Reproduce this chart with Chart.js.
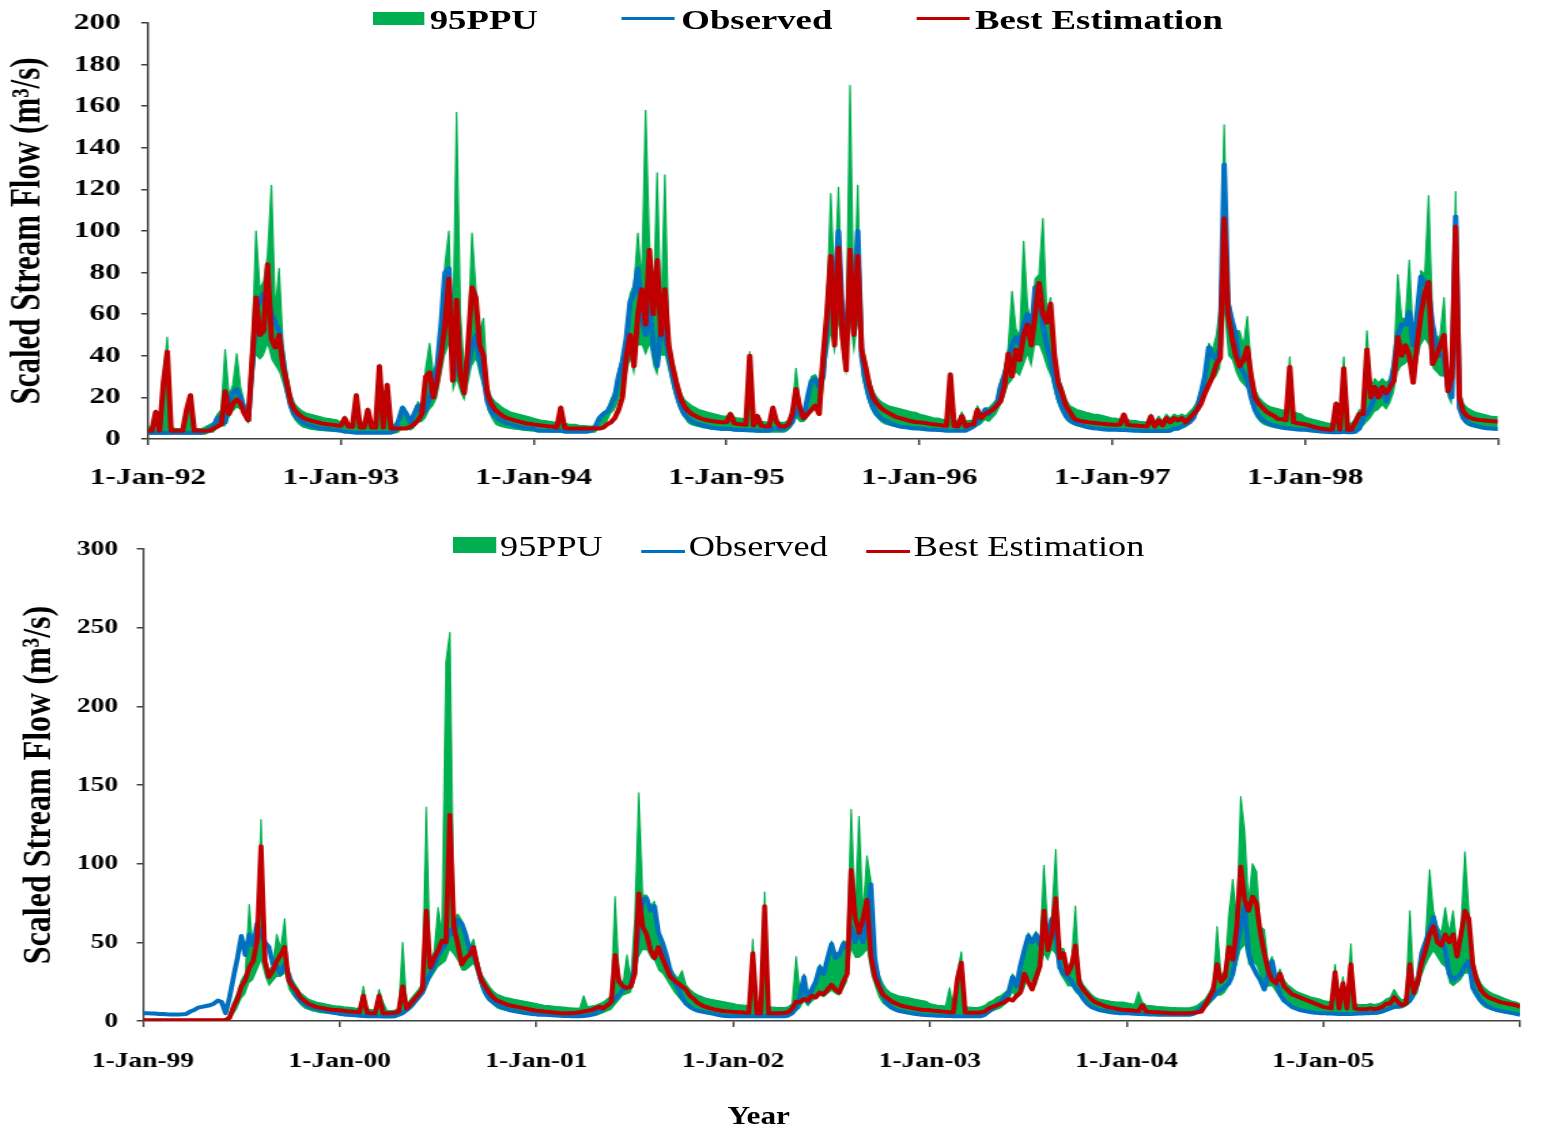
<!DOCTYPE html>
<html>
<head>
<meta charset="utf-8">
<title>Scaled stream flow, 95PPU</title>
<script src="https://cdn.jsdelivr.net/npm/chart.js@4.4.1/dist/chart.umd.min.js"></script>
<style>
  body { margin: 0; background: #fff; width: 1546px; height: 1131px; overflow: hidden; position: relative; }
  .panel { position: absolute; left: 0; transform-origin: 0 0; }
  .key { position: absolute; }
  .lbl { position: absolute; font-family: 'Liberation Serif', 'Times New Roman', serif; line-height: 1; white-space: nowrap; color: #000; }
  .bold { font-weight: bold; font-size: 27px; }
  .plain { font-size: 29px; }
</style>
</head>
<body>

<div class="panel" style="top:0;transform:scaleX(1.36)">
  <canvas id="topChart" width="1137" height="500"></canvas>
  <div class="key" style="left:274px;top:12px;width:38px;height:13px;background:#00B050"></div>
  <div class="lbl bold" style="left:316px;top:7px">95PPU</div>
  <div class="key" style="left:457px;top:17px;width:39px;height:3px;background:#0070C0"></div>
  <div class="lbl bold" style="left:501px;top:7px">Observed</div>
  <div class="key" style="left:674px;top:17px;width:39px;height:3px;background:#C00000"></div>
  <div class="lbl bold" style="left:717px;top:7px">Best Estimation</div>
</div>

<div class="panel" style="top:505px;transform:scaleX(1.25)">
  <canvas id="bottomChart" width="1237" height="626"></canvas>
  <div class="key" style="left:362px;top:32px;width:35px;height:16px;background:#00B050"></div>
  <div class="lbl plain" style="left:400px;top:27px">95PPU</div>
  <div class="key" style="left:513px;top:45px;width:35px;height:3px;background:#0070C0"></div>
  <div class="lbl plain" style="left:551px;top:27px">Observed</div>
  <div class="key" style="left:693px;top:45px;width:35px;height:3px;background:#C00000"></div>
  <div class="lbl plain" style="left:731px;top:27px">Best Estimation</div>
  <div class="lbl" style="left:582px;top:598px;font-weight:bold;font-size:25px">Year</div>
</div>

<script>
// readings every 1/50 year, one row per year, last value is 1 Jan of the closing year
const samplesPerYear = 50;
const yearTicks = [0, 1, 2, 3, 4, 5, 6, 7];
const topYearLabels = ['1-Jan-92', '1-Jan-93', '1-Jan-94', '1-Jan-95', '1-Jan-96', '1-Jan-97', '1-Jan-98'];
const bottomYearLabels = ['1-Jan-99', '1-Jan-00', '1-Jan-01', '1-Jan-02', '1-Jan-03', '1-Jan-04', '1-Jan-05'];

// 1992 - 1998
const topObserved = [
  3,3,3,3,3,3,3,3,3,3, 3,3,3,3,3,4,5,6,10,11, 8,18,22,24,20,14,9,35,62,66, 70,68,60,56,52,38,25,16,12,9.5, 8,7,6.5,6,5.5,5,5,4.8,4.5,4.3,
  4,3.5,3.5,3.2,3,3,3,3,3,3, 3,3,3,3,4,9,15,12,8,12, 16,12,14,20,28,35,55,80,82,40, 35,30,28,35,45,50,38,30,18,13, 11,9.5,8.5,7.5,7,6.5,6,5.5,5.2,5,
  5,4,4,4,4,4,4,4,3.5,3.5, 3.5,3.5,3.5,3.5,3.5,4,6,10,12,13, 16,20,30,37,48,66,70,82,60,50, 65,45,35,55,50,40,30,22,16,12, 10,8.5,7.5,7,6.5,6,5.5,5.2,5,4.8,
  5,4.8,4.5,4.5,4.3,4.3,4.2,4.2,4,4, 4,4,5,5,4.5,5,6,8,14,12, 10,20,28,29,25,30,55,85,70,100, 60,45,80,60,100,40,28,20,15,12, 10,9,8,7,6.5,6,5.8,5.5,5.2,5,
  5,4.8,4.6,4.5,4.4,4.3,4.2,4,4,4, 4,4,4,5,6,8,10,14,12,15, 16,25,30,38,45,49,45,55,60,50, 73,70,55,45,38,28,20,15,11,9, 8,7,6.5,6,5.5,5.2,5,4.8,4.6,4.5,
  4.5,4.4,4.3,4.3,4.2,4.1,4,4,3.9,3.9, 3.8,3.8,3.8,3.8,3.8,4,5,5,6,7, 8,10,15,22,30,44,40,38,45,132, 65,57,50,35,32,28,20,14,11,9, 8,7,6.5,6,5.5,5.2,5,4.8,4.6,4.4,
  4.4,4.2,4,3.8,3.6,3.5,3.4,3.3,3.3,3.2, 3.5,3.2,3.2,3.5,5,10,12,15,20,24, 24,18,25,35,50,55,55,61,45,60, 78,75,70,55,45,40,40,25,20,107, 15,10,8,7,6.5,6,5.5,5.2,5,4.9,
  4.8
];
const topBest = [
  4,4,13,4,27,42,4,4,4,4, 14,21,4,4,4,4,4,5,6,7, 23,12,17,19,17,12,9,38,68,50, 52,84,48,44,50,35,27,18,14,12, 10.5,9.5,9,8.5,8,7.5,7.2,7,6.8,6.5,
  6.3,10,6,5.8,21,5.5,5.5,14,5.5,5.5, 35,5.5,26,5,5,5,5,5,6,7, 9,12,30,32,20,28,40,55,77,28, 67,30,22,46,73,68,45,40,22,17, 14,12.5,11,10,9.5,9,8.5,8,7.5,7.3,
  7,6.8,6.5,6.3,6,6,5.5,15,5.5,5, 5,5,5,5,5,5,5,5,5.5,7, 8,10,14,20,39,50,35,60,72,55, 91,60,86,50,72,45,35,27,20,16, 13.5,12,11,10,9.5,9,8.7,8.4,8.2,8,
  8,12,7.5,7.2,7,6.8,40,6.5,11,6.3, 6,6,15,8,6,6,7,12,24,15, 10,12,14,16,12,39,60,88,45,92, 50,33,91,50,88,43,35,26,20,17, 15,13.5,12.5,11.5,10.5,10,9.5,9,8.5,8.2,
  8,7.8,7.5,7.2,7,6.8,6.5,6.3,31,6.2, 6,11,6,7,7,14,10,12,13,14, 16,18,25,41,30,43,38,50,55,45, 60,75,60,56,65,40,27,22,16,13, 10,9,8.6,8.3,8,7.8,7.6,7.4,7.2,7,
  7,6.8,7,11.7,6.8,6.6,6.5,6.3,6.2,6, 10.9,6,9,6.5,10,8,10,9,10,8, 10,12,14,17,22,26,30,36,39,106, 60,49,40,35,38,44,30,20,17,15, 13,12,11,9.6,9.5,9,34.6,8,7.6,7.3,
  7,6.5,6,5.5,5,4.8,4.6,4.5,17,4.5, 34,4.5,4.5,8,12,12,43,20,25,20, 25,22,25,28,49,40,45,40,27,45, 60,70,75.5,36,40,45,50,23,30,102, 20,13,11,10,9.5,9.2,9,8.8,8.6,8.5,
  8.3
];
const topUpper = [
  6,6,14,6,30,49,6,5,5,5, 15,22,5,5,5,6,7,8,12,14, 43,21,26,41,25,17,12,45,100,72, 76,88,122,62,82,45,32,22,17,15, 13.5,12.5,12,11.5,11,10.5,10,9.8,9.5,9.2,
  8,11,7.5,7,22,7,7,15,7,7, 36,7,27,7,7,10,16,13,9,13, 18,15,34,46,31,38,58,84,100,44, 157,60,32,50,99,72,52,58,26,20, 18,16.5,15,14,13,12.5,12,11.5,11,10.5,
  10,9.5,9,8.8,8.5,8.2,8,16,7.5,7.2, 7,7,6.5,6.5,6.3,6.2,6.5,10,13,14, 19,23,33,40,52,70,74,99,76,158, 94,64,128,58,127,50,38,30,23,19, 17.5,16,15,14,13.5,13,12.5,12,11.5,11,
  11,13,10.5,10,10,9.5,42,9,12,8.5, 8.2,8,16,9,8,8,9,14,34,17, 13,22,30,31,27,43,64,118,74,121, 64,50,170,64,122,47,38,29,23,20, 18,17,16,15.5,15,14.5,14,13.5,13,12.8,
  12,11.5,11,10.5,10,10,9.5,9.2,32,9, 8.8,13,8.5,9,9,16,12,15,15,17, 19,28,33,44,71,53,49,95,64,54, 77,79,106,60,68,44,30,25,19,16, 15,14,13.5,13,12.5,12,11.8,11.5,11,10.5,
  10,10,9.5,12.5,9.2,9,8.8,8.5,8.3,8.2, 12,8,11,8.5,12,10,12,11,12,11, 13,15,18,24,32,46,43,50,66,151, 70,60,52,52,45,59,34,24,20,18, 16.5,15.5,15,14.5,14,13.5,39.5,13,12.5,12,
  10.5,10,9.5,9,8.5,8,7.5,7.5,18,7.5, 39.5,7.5,7.5,10,14,14,52,24,29,27, 29,27,29,38,79,58,58,86,48,63, 81,79,117,58,48,50,68,28,34,119, 23,17,15,14,13,12.5,12,11.5,11,10.8,
  10.6
];
const topLower = [
  2,2,2,2,2,2,2,2,2,2, 2,2,2,2,2,2,3,3,5,6, 6,10,13,15,14,10,7,22,40,38, 40,45,38,35,32,26,19,12,9,7, 5.5,5,4.5,4.2,4,3.8,3.6,3.5,3.4,3.3,
  3.2,3,2.8,2.7,2.6,2.5,2.5,2.5,2.5,2.5, 2.5,2.5,2.5,2.5,2.5,3,5,5,4,5, 8,8,10,14,16,20,30,40,45,22, 28,22,18,26,35,38,30,24,14,10, 7,6,5.5,5,4.8,4.5,4.3,4,3.8,3.6,
  3.5,3.4,3.3,3.2,3.1,3,3,3,3,3, 3,3,3,3,3,3,3,5,7,8, 12,14,18,24,30,38,30,45,45,40, 45,35,30,40,40,32,24,18,13,10, 7.5,6.5,6,5.5,5,4.8,4.5,4.3,4.2,4,
  4,3.8,3.6,3.5,3.4,3.3,3.2,3.1,3,3, 3,3,3,3,3,3,4,6,10,8, 8,10,14,16,12,22,38,50,40,55, 40,30,55,40,55,30,22,16,12,10, 8,7,6.5,6,5.5,5.2,5,4.8,4.6,4.4,
  4.2,4,3.9,3.8,3.7,3.6,3.5,3.5,3.5,3.5, 3.5,3.5,3.5,4,5,6,7,9,8,10, 12,16,20,26,28,32,30,35,40,34, 45,45,40,34,30,22,16,12,9,7.5, 6.5,6,5.5,5.2,5,4.7,4.5,4.3,4.2,4,
  4,3.8,3.7,3.6,3.5,3.4,3.3,3.2,3.1,3, 3,3,3,3,3,3.2,4,4,5,5.5, 7,9,12,15,20,26,28,30,34,60, 40,38,32,28,26,24,16,11,8.5,7, 6.2,5.6,5.2,4.9,4.6,4.4,4.2,4,3.9,3.8,
  3.8,3.6,3.5,3.4,3.3,3.2,3.1,3,3,3, 3,3,3,3,4,6,8,10,13,14, 16,14,17,22,32,35,36,38,30,36, 45,48,45,34,32,30,30,20,16,45, 12,8,6.5,5.8,5.3,5,4.7,4.5,4.3,4.2,
  4
];

// 1999 - 2005
const bottomObserved = [
  5,5,4.8,4.8,4.5,4.5,4.3,4.2,4.2,4.2, 4.3,4.5,6,7,8.5,9,9.5,10,11,13, 12,5,15,28,40,54,42,55,48,62, 55,50,47,36,35,30,36,30,22,16, 13,11,9.5,8.5,7.9,7,6.5,6,5.5,5,
  4.5,4.2,4,3.8,3.6,3.4,3.2,3,3,3, 3,2.8,2.8,2.8,3,4,5,7,9,12, 15,18,25,30,35,42,45,50,58,55, 64,62,55,45,42,35,25,18,14,12, 10,9,8,7,6.5,6,5.5,5,4.8,4.5,
  4.2,4,3.9,3.8,3.6,3.5,3.4,3.2,3.1,3, 3,3,3.2,3.5,4,5,6,8,10,12, 14,17,20,21,22,35,60,77,78,70, 73,56,50,42,32,25,21,15,11,9, 7.5,6.5,6,5.5,5,4.5,4,3.5,3.2,3,
  3,3,3,3,3,3,3,3,3,3, 3,3,3,3,3.5,5,8,15,28,12, 20,25,34,30,40,49,40,42,49,46, 60,50,58,50,65,87,40,25,17,12, 9,7.5,6.5,6,5.5,5,4.6,4.3,4,3.8,
  3.6,3.5,3.4,3.3,3.2,3.1,3,3,3,3, 3,3,3,3,4,6,8,10,12,15, 18,28,22,35,45,54,50,55,48,60, 55,65,55,34,30,28,25,21,18,14, 11,9,8,7,6.5,6,5.5,5.2,5,5,
  5,4.8,4.6,4.5,4.4,4.3,4.2,4.1,4,4, 4,4,4,4,4,4,4,4.5,6,9, 11,13,15,18,20,22,24,30,45,60, 73,43,35,30,26,20,30,38,25,17, 13,11,9,8,7,6.5,6,5.5,5.2,5,
  5,4.8,4.7,4.6,4.5,4.5,4.5,4.5,4.6,4.7, 4.8,5,5,5.2,5.5,6,7,8,9,9, 10,11,13,18,25,43,50,58,66,55, 51,45,30,26,28,30,35,38,21,17, 13,11,9,8,7,6.5,6,5.5,5,4.5,
  4
];
const bottomBest = [
  0.5,0.5,0.5,0.5,0.5,0.5,0.5,0.5,0.5,0.5, 0.5,0.5,0.5,0.5,0.5,0.5,0.5,0.5,0.5,0.5, 0.5,0.5,2,9,14,22,26,34,38,51, 111,38,28,32,38,42,47,26,22,19.6, 15,13,11,10,9,8.5,8,7.5,7.2,7,
  6.8,6.5,6.2,6,5.8,5.5,16,5.2,5,5, 16,5,5,5,5.2,6,22,8,11,14, 17,20,70,34,40,45,51,50,131,60, 49,36,40,42,47,35,26,22,18,15, 13,12,11,10,9.5,9,8.5,8,7.5,7,
  6.5,6.3,6,5.8,5.5,5.3,5,5,5,5, 5.2,5.5,6,6.5,7,8,9,8,10,12, 42,25,22,21,22,30,81,60,55,45, 40,47,40,34,28,26,24,22,20,16, 14,11.5,10,9,8.2,7.5,7,6.5,6.2,6,
  5.8,5.6,5.5,5.3,5.2,43,5,5,73,5, 5,5,5,5.2,5.5,8,12.3,12,14,13, 16,15,18,17,20,23,20,18,25,30, 96,66,56,65,77,41,28,22,17,15, 13,11.5,10.5,9.5,9,8.5,8,7.5,7.2,7,
  6.8,6.5,6.3,6,5.8,5.6,5.5,27,37,5.4, 5.3,5.2,5.2,5.5,6,8,9,10,11,12, 14,13,16,18,30,25,20,28,35,70, 45,55,78,40,43,30,35,48,24,20, 17,14,12,11,10,9,8.5,8,7.5,7.2,
  7,6.8,6.5,6.3,10,6,5.8,5.6,5.5,5.3, 5.2,5,5,5,5,5,5,5.2,5.5,6, 10,15,19.6,36,25,28,47,39,60,98, 77,70,79,75,56,43,32,26,24,30, 22,19.6,17,16,15,14,13,12,11,10,
  9,8.5,8,31,8,24,8,36,8,7.5, 7.5,7.5,8,7.5,8,9,11,11,15,12, 10,11,36,18,25,37,45,55,60,50, 48,55,50,55,41,55,70,65,36,26, 20,17,15,14,13,12,11.5,11,10.5,10,
  9
];
const bottomUpper = [
  1,1,1,1,1,1,1,1,1,1, 1,1,1,1,1,1,1,1,1,1, 1,1.5,4,12,18,26,30,74,42,55, 128,42,32,36,55,46,65,30,26,22, 18,16,14,13,12,11.5,11,10.5,10,9.5,
  9.5,9,8.8,8.5,8.2,8,22,7.5,7.2,7, 20,12,6.8,6.5,7,8,50,10,14,17, 20,24,136,38,44,72,55,228,247,64, 68,64,58,47,52,40,30,26,22,19, 17,16,15,14.5,14,13.5,13,12.5,12,11.5,
  11,10.5,10,9.8,9.5,9.2,9,8.8,8.5,8.3, 8.2,8,16,9,9.5,10,11,12,14,16, 79,28,24,42,26,65,145,80,80,73, 76,58,52,44,34,30,27,32,23,20, 18,16.5,15.5,14.5,14,13.5,13,12.5,12,11.5,
  11,10.5,10.2,10,9.8,52,9.5,9.2,82,9, 8.8,8.6,8.5,8.5,9,11,41,18,30,17, 22,27,36,32,42,51,43,44,51,50, 134.6,70,130,68,105,89,42,30,24,20, 18,17,16,15.5,15,14.5,14,13.5,13,12.5,
  11,10.5,10,9.8,9.5,21,9.3,31,44,9, 8.8,8.6,8.5,9,10,12,13,15,16,18, 20,30,25,37,47,56,52,57,50,99, 58,67,109,46,46,34,38,73,28,23, 20,17,15,14,13.5,13,12.5,12.2,12,12,
  11.5,11,10.5,18.5,12,10,9.8,9.5,9.2,9, 8.8,8.6,8.5,8.4,8.3,8.3,8.5,9,10,12, 14,18,23,60,29,32,68,90,64,142.6, 121,75,100,95,60,58,36,41,28,33, 26,23,21,19,18,17,16,15,14.5,14,
  13,12.5,12,36,12,28,11.5,49,11,10.5, 10.5,10.5,11,10.5,11,12,14,15,20,16, 13,15,70,22,30,46,53,96,70,60, 56,72,56,70,46,60,107.5,70,40,30, 24,21,19,17.5,16.5,15.5,14.5,13.5,12.5,12,
  11
];
const bottomLower = [
  0.3,0.3,0.3,0.3,0.3,0.3,0.3,0.3,0.3,0.3, 0.3,0.3,0.3,0.3,0.3,0.3,0.3,0.3,0.3,0.3, 0.3,0.3,0.3,4,8,14,17,24,26,32, 38,28,22,25,28,28,30,20,16,13, 10,8,7,6,5.5,5,4.7,4.4,4.2,4,
  4,3.8,3.6,3.5,3.4,3.3,3.2,3.1,3,3, 3,3,3,3,3,3.5,4.5,6,8,10, 13,16,20,26,30,34,36,38,45,42, 38,32,32,34,36,28,20,15,12,10, 8,7,6.5,6,5.5,5.2,5,4.7,4.5,4.3,
  3.8,3.7,3.6,3.5,3.4,3.3,3.2,3.1,3,3, 3,3,3,3,3,3,4,5,6,7, 10,13,16,17,18,25,40,45,45,40, 38,32,30,26,22,18,15,12,10,8, 6.5,6,5.5,5,4.7,4.5,4.2,4,3.8,3.6,
  3,2.9,2.8,2.8,2.7,2.7,2.6,2.6,2.5,2.5, 2.5,2.5,2.5,2.5,2.5,3.5,6,8,12,9, 12,14,16,15,17,19,17,16,20,25, 45,40,40,42,45,30,22,15,11,9, 7.5,6.5,6,5.5,5,4.7,4.4,4.2,4,3.8,
  3.4,3.3,3.2,3.1,3,3,2.9,2.9,2.8,2.8, 2.8,2.8,2.8,3,3.5,5,6,7,8,10, 12,18,14,16,20,28,24,22,30,42, 38,45,42,30,26,22,22,18,16,13, 9.5,8,7,6.3,5.8,5.4,5,4.8,4.6,4.5,
  4.5,4.4,4.3,4.2,4.1,4,4,3.9,3.9,3.8, 3.8,3.8,3.8,3.8,3.8,3.8,3.8,4,5,7, 8,10,13,16,16,18,22,26,35,45, 48,35,38,35,28,20,22,22,18,15, 12,10,8.5,7.5,6.8,6.2,5.8,5.4,5,4.8,
  4.6,4.5,4.5,4.4,4.3,4.2,4.2,4.1,4,4, 4,4,4,4,4,5,6,7,8,8, 8,9,11,14,18,28,35,40,44,40, 36,34,24,22,24,26,30,30,18,14, 10.5,8.5,7.5,6.5,6,5.5,5,4.5,4.2,4,
  3.8
];

const expected = 7 * samplesPerYear + 1;
Object.entries({topObserved, topBest, topUpper, topLower, bottomObserved, bottomBest, bottomUpper, bottomLower})
  .forEach(([name, arr]) => {
    if (arr.length !== expected) throw new Error(name + ' has ' + arr.length + ' values, expected ' + expected);
  });

const serif = "'Liberation Serif', 'Times New Roman', serif";
const axisColor = '#404040';

function toPoints(vals) {
  return vals.map((v, i) => ({ x: i / samplesPerYear, y: v }));
}

function makeChart(id, o) {
  return new Chart(document.getElementById(id), {
    type: 'line',
    data: {
      datasets: [
        { label: '95PPU', data: toPoints(o.upper), borderColor: '#00B050', backgroundColor: '#00B050',
          borderWidth: 1.2, fill: 1, order: 2 },
        { label: '95PPU lower', data: toPoints(o.lower), borderColor: 'rgba(0,176,80,0)', borderWidth: 1,
          fill: false, order: 3 },
        { label: 'Observed', data: toPoints(o.observed), borderColor: '#0070C0', borderWidth: 4,
          fill: false, order: 1 },
        { label: 'Best Estimation', data: toPoints(o.best), borderColor: '#C00000', borderWidth: 4,
          fill: false, order: 0 }
      ]
    },
    options: {
      responsive: false,
      animation: false,
      events: [],
      elements: { point: { radius: 0 }, line: { tension: 0, borderJoinStyle: 'round' } },
      layout: { padding: o.padding },
      plugins: { legend: { display: false }, tooltip: { enabled: false } },
      scales: {
        x: {
          type: 'linear', min: 0, max: 7,
          afterBuildTicks: s => { s.ticks = yearTicks.map(v => ({ value: v })); },
          afterFit: s => { s.height = o.xHeight; },
          ticks: {
            autoSkip: false, maxRotation: 0, padding: o.xPad, color: '#000',
            font: { family: serif, weight: 'bold', size: o.tickSize },
            callback: v => o.yearLabels[v] ?? ''
          },
          grid: { drawOnChartArea: false, drawTicks: true, tickLength: 6, color: axisColor, lineWidth: 1.5 },
          border: { display: true, color: axisColor, width: 1.5 }
        },
        y: {
          min: 0, max: o.yMax,
          // keep the plot top where the axis starts; labels fit in the layout padding
          afterFit: s => { s.width = o.yWidth; s.paddingTop = 0; s.paddingBottom = 0; },
          ticks: {
            stepSize: o.yStep, padding: 15, color: '#000',
            font: { family: serif, weight: 'bold', size: o.tickSize }
          },
          grid: { drawOnChartArea: false, drawTicks: true, tickLength: 5, color: axisColor, lineWidth: 1.5 },
          border: { display: true, color: axisColor, width: 1.5 },
          title: {
            display: true, text: 'Scaled Stream Flow (m³/s)', color: '#000',
            font: { family: serif, weight: 'bold', size: o.yTitleSize },
            padding: { top: o.yTitlePad, bottom: 0 }
          }
        }
      }
    }
  });
}

makeChart('topChart', {
  upper: topUpper, lower: topLower, observed: topObserved, best: topBest,
  yearLabels: topYearLabels, yMax: 200, yStep: 20,
  padding: { left: 0, right: 35.5, top: 23, bottom: 0 },
  yWidth: 108.8, xHeight: 61, xPad: 19, tickSize: 23,
  yTitleSize: 31, yTitlePad: 2
});

makeChart('bottomChart', {
  upper: bottomUpper, lower: bottomLower, observed: bottomObserved, best: bottomBest,
  yearLabels: bottomYearLabels, yMax: 300, yStep: 50,
  padding: { left: 0, right: 4.2, top: 44, bottom: 0 },
  yWidth: 114.4, xHeight: 110, xPad: 21, tickSize: 22,
  yTitleSize: 32, yTitlePad: 12.8
});
</script>
</body>
</html>
